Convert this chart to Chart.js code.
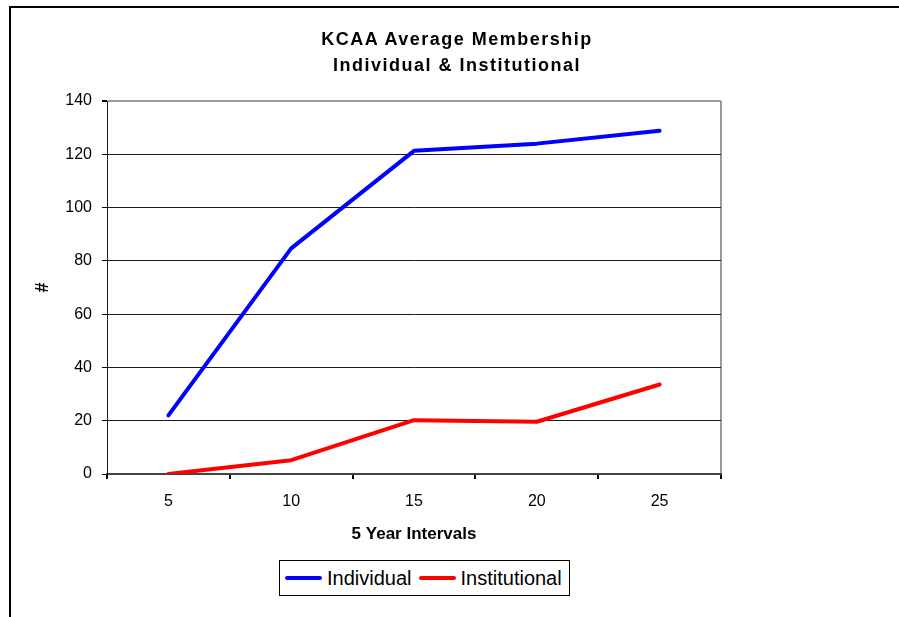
<!DOCTYPE html>
<html>
<head>
<meta charset="utf-8">
<script src="https://cdn.jsdelivr.net/npm/chart.js@4"></script>
<style>
  html, body { margin: 0; padding: 0; background: #fff; overflow: hidden; }
  body { width: 899px; height: 617px; position: relative; font-family: "Liberation Sans", Arial, sans-serif; }
  #frame { position: absolute; left: 9px; top: 6px; width: 1000px; height: 1000px;
           border-left: 2px solid #000; border-top: 2px solid #000; }
  #chart { position: absolute; left: 0; top: 0; }
  #title { position: absolute; left: 157px; top: 26px; width: 600px; text-align: center;
           font-weight: bold; font-size: 18px; line-height: 26px; letter-spacing: 1.5px; color: #000; }
  #legend { position: absolute; left: 279px; top: 560px; width: 289px; height: 34px;
            border: 1px solid #000; background: #fff; display: flex; align-items: center; font-size: 20px; }
  .swatch { width: 37px; height: 4px; border-radius: 2px; margin: 0 5px 0 5px; }
  .item { display: flex; align-items: center; margin-right: 2px; }
</style>
</head>
<body>
<div id="frame"></div>
<canvas id="chart" width="899" height="617"></canvas>
<div id="title">KCAA Average Membership<br>Individual &amp; Institutional</div>
<div id="legend"></div>
<script>
// Data
const categories = ['5', '10', '15', '20', '25'];
const individual = [22, 84.7, 121.3, 124, 128.8];
const institutional = [0, 5.2, 20.2, 19.6, 33.6];
const seriesNames = ['Individual', 'Institutional'];
const seriesColors = ['#0000FF', '#FF0000'];
const yMin = 0, yMax = 140, yStep = 20;

Chart.defaults.font.family = '"Liberation Sans", Arial, sans-serif';
Chart.defaults.color = '#000';

// HTML legend with a box round it, like the Excel one
const legend = document.getElementById('legend');
seriesNames.forEach((name, i) => {
  const item = document.createElement('div');
  item.className = 'item';
  item.innerHTML = `<span class="swatch" style="background:${seriesColors[i]}"></span><span>${name}</span>`;
  legend.appendChild(item);
});

const ctx = document.getElementById('chart').getContext('2d');
new Chart(ctx, {
  type: 'line',
  data: {
    labels: categories,
    datasets: [
      { label: seriesNames[0], data: individual },
      { label: seriesNames[1], data: institutional }
    ].map((ds, i) => ({
      ...ds,
      borderColor: seriesColors[i],
      backgroundColor: seriesColors[i],
      borderWidth: 4,
      borderCapStyle: 'round',
      borderJoinStyle: 'round',
      pointRadius: 0,
      tension: 0,
      fill: false
    }))
  },
  options: {
    responsive: false,
    animation: false,
    layout: { padding: { left: 0, right: 178, top: 101, bottom: 0 } },
    plugins: {
      legend: { display: false },
      title: { display: false },
      tooltip: { enabled: false }
    },
    scales: {
      x: {
        offset: true,
        afterFit: scale => { scale.height = 143; },
        grid: {
          offset: true,
          drawOnChartArea: true,
          // only the right edge of the plot shows, in grey
          color: c => c.type === 'tick' ? 'rgba(0,0,0,0)' : '#9a9a9a',
          tickColor: '#000',
          tickLength: 5,
          lineWidth: 2
        },
        border: { color: '#444', width: 2 },
        ticks: { font: { size: 16 }, padding: 13, maxRotation: 0 },
        title: {
          display: true,
          text: '5 Year Intervals',
          font: { size: 17, weight: 'bold' },
          padding: { top: 0, bottom: 72 }
        }
      },
      y: {
        min: yMin,
        max: yMax,
        afterFit: scale => { scale.width = 107; },
        grid: {
          color: c => c.tick && c.tick.value === yMax ? '#9a9a9a' : '#1a1a1a',
          lineWidth: c => c.tick && c.tick.value === yMax ? 2 : 1,
          tickColor: '#000',
          tickLength: 5
        },
        border: { color: '#1a1a1a', width: 1 },
        ticks: { stepSize: yStep, font: { size: 16 }, padding: 10 },
        title: {
          display: true,
          text: '#',
          font: { size: 18, weight: 'bold' },
          padding: { top: 32, bottom: 0 }
        }
      }
    }
  }
});
</script>
</body>
</html>
